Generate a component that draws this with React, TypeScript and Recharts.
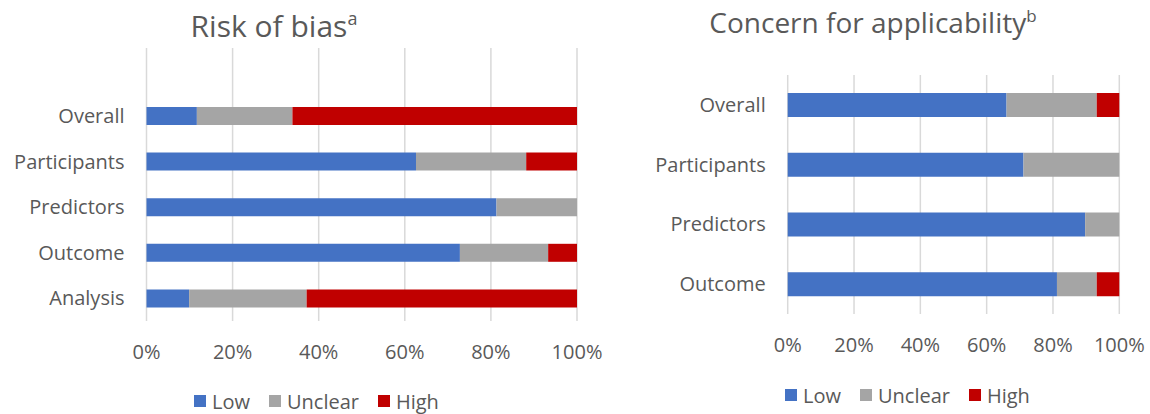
import React from 'react';
import { BarChart, Bar, XAxis, YAxis, CartesianGrid } from 'recharts';

const riskCategories = ['Overall', 'Participants', 'Predictors', 'Outcome', 'Analysis'];
const riskLow = [11.7, 62.6, 81.3, 72.8, 9.9];
const riskUnclear = [22.2, 25.6, 18.7, 20.5, 27.3];
const riskHigh = [66.1, 11.8, 0, 6.7, 62.8];

const applCategories = ['Overall', 'Participants', 'Predictors', 'Outcome'];
const applLow = [66.0, 71.1, 89.7, 81.2];
const applUnclear = [27.2, 28.9, 10.3, 12.0];
const applHigh = [6.8, 0, 0, 6.8];

const xTicks = [0, 20, 40, 60, 80, 100];
const seriesNames = ['Low', 'Unclear', 'High'];
const seriesColors = ['#4472C4', '#A5A5A5', '#C00000'];

const FONT = "'Open Sans', 'Noto Sans', sans-serif";
const TEXT = '#595959';

const riskData = riskCategories.map((name, i) => ({
  name,
  Low: riskLow[i],
  Unclear: riskUnclear[i],
  High: riskHigh[i],
}));
const applData = applCategories.map((name, i) => ({
  name,
  Low: applLow[i],
  Unclear: applUnclear[i],
  High: applHigh[i],
}));

const tickStyle = { fontSize: 20, fill: TEXT, fontFamily: FONT };

function LegendRow({ left, top }: { left: number; top: number }) {
  return (
    <div
      style={{
        position: 'absolute',
        left,
        top,
        height: 28,
        display: 'flex',
        alignItems: 'center',
        gap: 19,
        fontFamily: FONT,
        fontSize: 20,
        color: TEXT,
        whiteSpace: 'nowrap',
      }}
    >
      {seriesNames.map((n, i) => (
        <div key={n} style={{ display: 'flex', alignItems: 'center' }}>
          <span style={{ display: 'inline-block', width: 12, height: 12, background: seriesColors[i], marginRight: 6 }} />
          <span>{n}</span>
        </div>
      ))}
    </div>
  );
}

export default function App() {
  return (
    <div
      style={{
        position: 'absolute',
        left: 0,
        top: 0,
        width: 1150,
        height: 414,
        background: '#fff',
        overflow: 'hidden',
        fontFamily: FONT,
      }}
    >
      <svg width={1150} height={414} style={{ position: 'absolute', left: 0, top: 0, pointerEvents: 'none' }}>
        <text x={274} y={37} textAnchor="middle" fontFamily={FONT} fontSize={30} fill={TEXT}>
          Risk of bias<tspan fontSize={18} dy={-12}>a</tspan>
        </text>
        <text x={873} y={33} textAnchor="middle" fontFamily={FONT} fontSize={28} fill={TEXT}>
          Concern for applicability<tspan fontSize={17} dy={-11}>b</tspan>
        </text>
      </svg>

      <div style={{ position: 'absolute', left: 0, top: 0 }}>
        <BarChart
          width={620}
          height={414}
          data={riskData}
          layout="vertical"
          margin={{ top: 48, right: 43, bottom: 63, left: 0 }}
          barSize={18}
        >
          <CartesianGrid horizontal={false} vertical stroke="#d9d9d9" strokeWidth={1.5} />
          <XAxis
            type="number"
            domain={[0, 100]}
            ticks={xTicks}
            tickFormatter={(v: number) => `${v}%`}
            axisLine={false}
            tickLine={false}
            tickMargin={18}
            height={30}
            tick={tickStyle}
            interval={0}
          />
          <YAxis
            type="category"
            dataKey="name"
            width={146.5}
            axisLine={false}
            tickLine={false}
            tickMargin={16}
            tick={tickStyle}
            padding={{ top: 45, bottom: 0 }}
            interval={0}
          />
          {seriesNames.map((n, i) => (
            <Bar key={n} dataKey={n} stackId="a" fill={seriesColors[i]} isAnimationActive={false} />
          ))}
        </BarChart>
      </div>

      <div style={{ position: 'absolute', left: 620, top: 0 }}>
        <BarChart
          width={530}
          height={414}
          data={applData}
          layout="vertical"
          margin={{ top: 75, right: 30.7, bottom: 70, left: 0 }}
          barSize={24}
        >
          <CartesianGrid horizontal={false} vertical stroke="#d9d9d9" strokeWidth={1.5} />
          <XAxis
            type="number"
            domain={[0, 100]}
            ticks={xTicks}
            tickFormatter={(v: number) => `${v}%`}
            axisLine={false}
            tickLine={false}
            tickMargin={18}
            height={30}
            tick={tickStyle}
            interval={0}
          />
          <YAxis
            type="category"
            dataKey="name"
            width={167.7}
            axisLine={false}
            tickLine={false}
            tickMargin={16}
            tick={tickStyle}
            interval={0}
          />
          {seriesNames.map((n, i) => (
            <Bar key={n} dataKey={n} stackId="a" fill={seriesColors[i]} isAnimationActive={false} />
          ))}
        </BarChart>
      </div>

      <LegendRow left={194} top={387} />
      <LegendRow left={785} top={381} />
    </div>
  );
}
